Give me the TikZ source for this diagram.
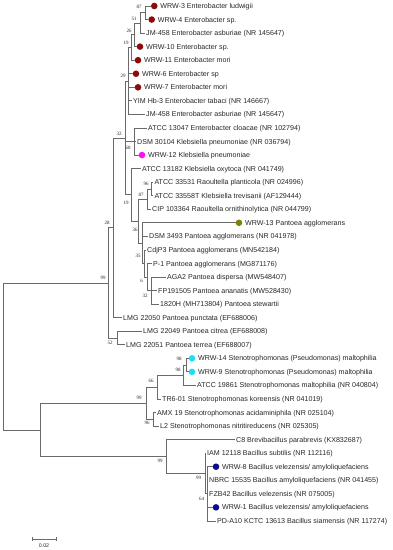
\documentclass[tikz,border=0pt]{standalone}
\usepackage{fontspec}
\setmainfont{Liberation Sans}
\newfontfamily\bsfont{Liberation Serif}
\definecolor{dred}{HTML}{8E0B0B}
\definecolor{mag}{HTML}{FF10F0}
\definecolor{olv}{HTML}{808010}
\definecolor{cyn}{HTML}{20DDF5}
\definecolor{nvy}{HTML}{0C0C8C}
\definecolor{brc}{HTML}{6A6A6A}
\definecolor{txc}{HTML}{262626}
\begin{document}
\begin{tikzpicture}[x=1pt,y=-1pt,
  br/.style={draw=brc, line width=0.75pt},
  lf/.style={anchor=west, inner xsep=1pt, inner ysep=0pt, text height=5.1pt, text depth=0pt, font=\fontsize{7.1}{8}\selectfont, text=txc},
  dt/.style={circle, inner sep=0pt, minimum size=6.6pt},
  bs/.style={font=\bsfont\fontsize{5}{6}\selectfont, inner sep=0pt, text=txc},
  sc/.style={font=\fontsize{5.3}{6}\selectfont, inner sep=0pt, text=txc}]
\useasboundingbox (0,0) rectangle (393,550);
% ---------- dotted leaves ----------
\node[dt,fill=dred] (d1) at (154.3,6.00) {};
\node[lf] (l1) at ([xshift=1.4pt]d1.east) {WRW-3 Enterobacter ludwigii};
\node[dt,fill=dred] (d2) at (151.7,19.55) {};
\node[lf] (l2) at ([xshift=1.4pt]d2.east) {WRW-4 Enterobacter sp.};
\node[dt,fill=dred] (d4) at (140,46.65) {};
\node[lf] (l4) at ([xshift=1.4pt]d4.east) {WRW-10 Enterobacter sp.};
\node[dt,fill=dred] (d5) at (138,60.20) {};
\node[lf] (l5) at ([xshift=1.4pt]d5.east) {WRW-11 Enterobacter mori};
\node[dt,fill=dred] (d6) at (136,73.75) {};
\node[lf] (l6) at ([xshift=1.4pt]d6.east) {WRW-6 Enterobacter sp};
\node[dt,fill=dred] (d7) at (138,87.30) {};
\node[lf] (l7) at ([xshift=1.4pt]d7.east) {WRW-7 Enterobacter mori};
\node[dt,fill=mag] (d12) at (142,155.05) {};
\node[lf] (l12) at ([xshift=1.4pt]d12.east) {WRW-12 Klebsiella pneumoniae};
\node[dt,fill=olv] (d17) at (239,222.80) {};
\node[lf] (l17) at ([xshift=1.4pt]d17.east) {WRW-13 Pantoea agglomerans};
\node[dt,fill=cyn] (d27) at (192,358.30) {};
\node[lf] (l27) at ([xshift=1.4pt]d27.east) {WRW-14 Stenotrophomonas (Pseudomonas) maltophilia};
\node[dt,fill=cyn] (d28) at (192,371.85) {};
\node[lf] (l28) at ([xshift=1.4pt]d28.east) {WRW-9 Stenotrophomonas (Pseudomonas) maltophilia};
\node[dt,fill=nvy] (d35) at (216,466.70) {};
\node[lf] (l35) at ([xshift=1.4pt]d35.east) {WRW-8 Bacillus velezensis/ amyloliquefaciens};
\node[dt,fill=nvy] (d38) at (216,507.35) {};
\node[lf] (l38) at ([xshift=1.4pt]d38.east) {WRW-1 Bacillus velezensis/ amyloliquefaciens};
% ---------- text leaves ----------
\node[lf] (l3) at (145,33.10) {JM-458 Enterobacter asburiae (NR 145647)};
\node[lf] (l8) at (132,100.85) {YIM Hb-3 Enterobacter tabaci (NR 146667)};
\node[lf] (l9) at (145,114.40) {JM-458 Enterobacter asburiae (NR 145647)};
\node[lf] (l10) at (147,127.95) {ATCC 13047 Enterobacter cloacae (NR 102794)};
\node[lf] (l11) at (136,141.50) {DSM 30104 Klebsiella pneumoniae (NR 036794)};
\node[lf] (l13) at (141,168.60) {ATCC 13182 Klebsiella oxytoca (NR 041749)};
\node[lf] (l14) at (153.3,182.15) {ATCC 33531 Raoultella planticola (NR 024996)};
\node[lf] (l15) at (153.3,195.70) {ATCC 33558T Klebsiella trevisanii (AF129444)};
\node[lf] (l16) at (151,209.25) {CIP 103364 Raoultella ornithinolytica (NR 044799)};
\node[lf] (l18) at (148,236.35) {DSM 3493 Pantoea agglomerans (NR 041978)};
\node[lf] (l19) at (146,249.90) {CdjP3 Pantoea agglomerans (MN542184)};
\node[lf] (l20) at (152,263.45) {P-1 Pantoea agglomerans (MG871176)};
\node[lf] (l21) at (166,277.00) {AGA2 Pantoea dispersa (MW548407)};
\node[lf] (l22) at (157,290.55) {FP191505 Pantoea ananatis (MW528430)};
\node[lf] (l23) at (159,304.10) {1820H (MH713804) Pantoea stewartii};
\node[lf] (l24) at (122,317.65) {LMG 22050 Pantoea punctata (EF688006)};
\node[lf] (l25) at (142,331.20) {LMG 22049 Pantoea citrea (EF688008)};
\node[lf] (l26) at (125,344.75) {LMG 22051 Pantoea terrea (EF688007)};
\node[lf] (l29) at (196,385.40) {ATCC 19861 Stenotrophomonas maltophilia (NR 040804)};
\node[lf] (l30) at (161,398.95) {TR6-01 Stenotrophomonas koreensis (NR 041019)};
\node[lf] (l31) at (156,412.50) {AMX 19 Stenotrophomonas acidaminiphila (NR 025104)};
\node[lf] (l32) at (159,426.05) {L2 Stenotrophomonas nitritireducens (NR 025305)};
\node[lf] (l33) at (235,439.60) {C8 Brevibacillus parabrevis (KX832687)};
\node[lf] (l34) at (206,453.15) {IAM 12118 Bacillus subtilis (NR 112116)};
\node[lf] (l36) at (208,480.25) {NBRC 15535 Bacillus amyloliquefaciens (NR 041455)};
\node[lf] (l37) at (208,493.80) {FZB42 Bacillus velezensis (NR 075005)};
\node[lf] (l39) at (216,520.90) {PD-A10 KCTC 13613 Bacillus siamensis (NR 117274)};
% ---------- internal nodes ----------
\coordinate (N87) at (145,12.78);
\coordinate (N51) at (140,22.94);
\coordinate (N26) at (134,34.80);
\coordinate (N19) at (131,47.50);
\coordinate (N29) at (128,80.95);
\coordinate (N68) at (134,141.50);
\coordinate (N96) at (151,188.93);
\coordinate (N87b) at (147,199.09);
\coordinate (N32b) at (151,290.55);
\coordinate (N6) at (147,277.00);
\coordinate (N35) at (144.5,263.45);
\coordinate (NP) at (142,243.13);
\coordinate (N36) at (138,221.11);
\coordinate (N19b) at (131,194.86);
\coordinate (N32) at (125,137.90);
\coordinate (N28) at (113,227.78);
\coordinate (N52) at (117,337.98);
\coordinate (N99a) at (108,282.88);
\coordinate (N98a) at (186,365.08);
\coordinate (N98b) at (183,375.24);
\coordinate (N66) at (157,387.10);
\coordinate (N96c) at (153,419.28);
\coordinate (N99b) at (146,403.19);
\coordinate (N64) at (207,493.80);
\coordinate (N99d) at (205,473.48);
\coordinate (N99c) at (166,456.54);
\coordinate (Nx40) at (40,429.87);
\coordinate (root) at (3,356.38);
% ---------- branches ----------
\draw[br] (N87) |- (d1.west) (N87) |- (d2.west);
\draw[br] (N51) |- (N87) (N51) |- (l3.west);
\draw[br] (N26) |- (N51) (N26) |- (d4.west);
\draw[br] (N19) |- (N26) (N19) |- (d5.west);
\draw[br] (N29) |- (N19) (N29) |- (d6.west) (N29) |- (d7.west) (N29) |- (l8.west) (N29) |- (l9.west);
\draw[br] (N68) |- (l10.west) (N68) |- (l11.west) (N68) |- (d12.west);
\draw[br] (N96) |- (l14.west) (N96) |- (l15.west);
\draw[br] (N87b) |- (N96) (N87b) |- (l16.west);
\draw[br] (N32b) |- (l21.west) (N32b) |- (l22.west) (N32b) |- (l23.west);
\draw[br] (N6) |- (l20.west) (N6) |- (N32b);
\draw[br] (N35) |- (l19.west) (N35) |- (N6);
\draw[br] (NP) |- (d17.west) (NP) |- (l18.west) (NP) |- (N35);
\draw[br] (N36) |- (N87b) (N36) |- (NP);
\draw[br] (N19b) |- (l13.west) (N19b) |- (N36);
\draw[br] (N32) |- (N29) (N32) |- (N68) (N32) |- (N19b);
\draw[br] (N28) |- (N32) (N28) |- (l24.west);
\draw[br] (N52) |- (l25.west) (N52) |- (l26.west);
\draw[br] (N99a) |- (N28) (N99a) |- (N52);
\draw[br] (N98a) |- (d27.west) (N98a) |- (d28.west);
\draw[br] (N98b) |- (N98a) (N98b) |- (l29.west);
\draw[br] (N66) |- (N98b) (N66) |- (l30.west);
\draw[br] (N96c) |- (l31.west) (N96c) |- (l32.west);
\draw[br] (N99b) |- (N66) (N99b) |- (N96c);
\draw[br] (N64) |- (d35.west) (N64) |- (l36.west) (N64) |- (l37.west) (N64) |- (d38.west) (N64) |- (l39.west);
\draw[br] (N99d) |- (l34.west) (N99d) |- (N64);
\draw[br] (N99c) |- (l33.west) (N99c) |- (N99d);
\draw[br] (Nx40) |- (N99b) (Nx40) |- (N99c);
\draw[br] (root) |- (N99a) (root) |- (Nx40);
% ---------- bootstrap values ----------
\node[bs] (b87) at (139,7) {87};
\node[bs] (b51) at (134,19) {51};
\node[bs] (b26) at (129,31) {26};
\node[bs] (b19) at (126,43) {19};
\node[bs] (b29) at (123,76) {29};
\node[bs] (b32) at (119,134) {32};
\node[bs] (b68) at (128,148) {68};
\node[bs] (b96) at (146,184) {96};
\node[bs] (b87b) at (141,195) {87};
\node[bs] (b19b) at (126,203) {19};
\node[bs] (b36) at (135,230) {36};
\node[bs] (b35) at (138,256) {35};
\node[bs] (b6) at (141.5,281) {6};
\node[bs] (b32b) at (145,296) {32};
\node[bs] (b28) at (107,223) {28};
\node[bs] (b99a) at (103,278) {99};
\node[bs] (b52) at (110,343) {52};
\node[bs] (b98a) at (179,359) {98};
\node[bs] (b98b) at (178,370) {98};
\node[bs] (b66) at (151,381) {66};
\node[bs] (b99b) at (139,398) {99};
\node[bs] (b96c) at (147,423) {96};
\node[bs] (b99c) at (160,461) {99};
\node[bs] (b99d) at (198.5,478) {99};
\node[bs] (b64) at (201.5,498.5) {64};
% ---------- scale bar ----------
\coordinate (sbA) at (32,539);
\coordinate (sbB) at (56,539);
\draw[br] (sbA) -- (sbB);
\draw[br] ([yshift=1.8pt]sbA) -- ([yshift=-1.8pt]sbA);
\draw[br] ([yshift=1.8pt]sbB) -- ([yshift=-1.8pt]sbB);
\node[sc] (sbl) at (44,545.5) {0.02};
\end{tikzpicture}
\end{document}
